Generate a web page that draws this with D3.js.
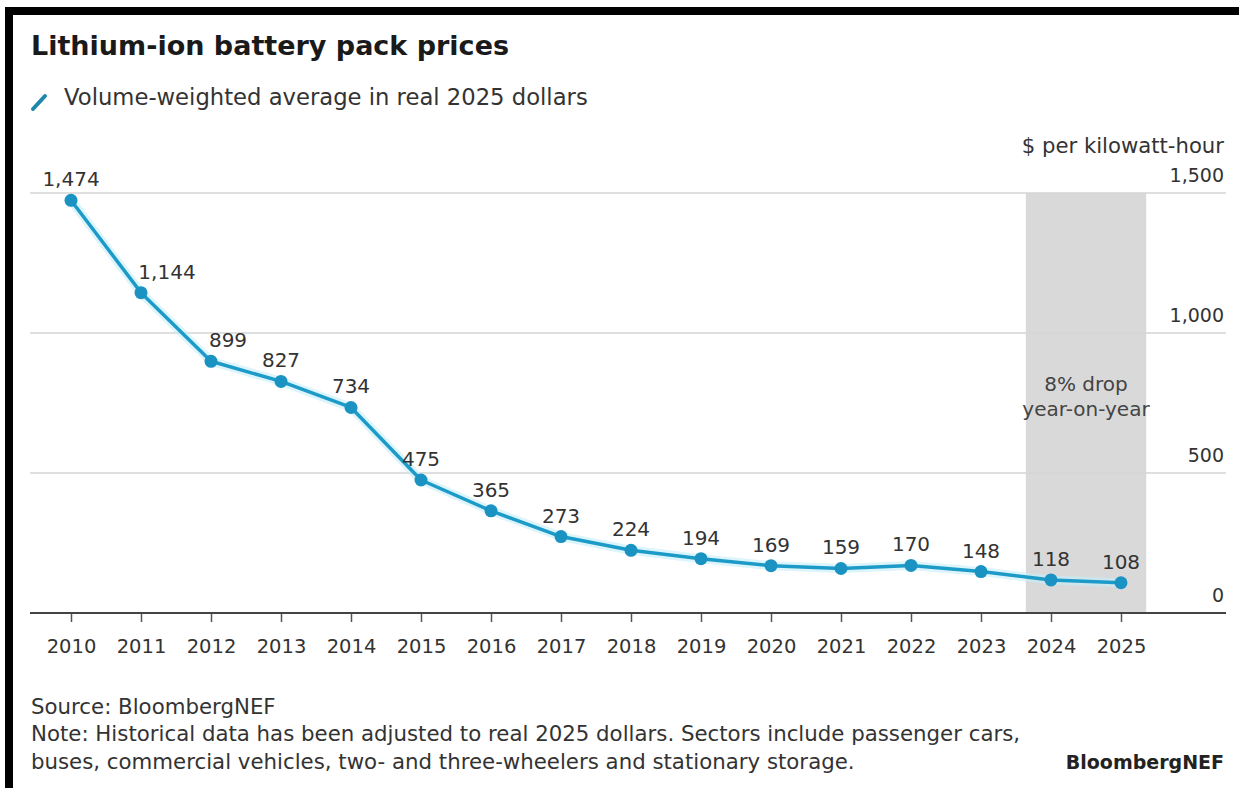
<!DOCTYPE html>
<html>
<head>
<meta charset="utf-8">
<title>Lithium-ion battery pack prices</title>
<script src="https://cdn.jsdelivr.net/npm/d3@7"></script>
<style>
    body { margin: 0; background: #fff; }
    svg { display: block; font-family: "DejaVu Sans", sans-serif; }
</style>
</head>
<body>
<div id="chart"></div>
<script>

// chart values
const years = [2010, 2011, 2012, 2013, 2014, 2015, 2016, 2017,
               2018, 2019, 2020, 2021, 2022, 2023, 2024, 2025];
const prices = [1474, 1144, 899, 827, 734, 475, 365, 273,
                224, 194, 169, 159, 170, 148, 118, 108];
const priceTicks = [0, 500, 1000, 1500];
const highlightYears = [2024, 2025];
const highlightNote = ["8% drop", "year-on-year"];

const titleText = "Lithium-ion battery pack prices";
const legendText = "Volume-weighted average in real 2025 dollars";
const unitText = "$ per kilowatt-hour";
const sourceText = "Source: BloombergNEF";
const noteLines = [
    "Note: Historical data has been adjusted to real 2025 dollars. Sectors include passenger cars,",
    "buses, commercial vehicles, two- and three-wheelers and stationary storage."
];
const brandText = "BloombergNEF";


class PriceLineVis {

    constructor(parentElement) {
        this.parentElement = parentElement;
        this.displayData = years.map((y, i) => ({year: y, price: prices[i]}));
        this.initVis();
    }

    initVis() {
        let vis = this;

        vis.fullWidth = 1239;
        vis.fullHeight = 788;
        vis.margin = {top: 193, right: 118, bottom: 175, left: 71};
        vis.width = vis.fullWidth - vis.margin.left - vis.margin.right;
        vis.height = vis.fullHeight - vis.margin.top - vis.margin.bottom;

        vis.svg = d3.select("#" + vis.parentElement).append("svg")
            .attr("width", vis.fullWidth)
            .attr("height", vis.fullHeight);

        // black frame around the whole picture
        vis.svg.append("rect")
            .attr("x", 9).attr("y", 11)
            .attr("width", 1234).attr("height", 800)
            .attr("fill", "none")
            .attr("stroke", "#000")
            .attr("stroke-width", 8);

        // title + legend
        vis.svg.append("text")
            .attr("x", 31).attr("y", 55)
            .attr("font-size", 27)
            .attr("font-weight", "bold")
            .attr("fill", "#1a1a1a")
            .text(titleText);

        vis.svg.append("line")
            .attr("x1", 33).attr("y1", 109)
            .attr("x2", 45).attr("y2", 96)
            .attr("stroke", "#1f87ad")
            .attr("stroke-width", 4)
            .attr("stroke-linecap", "round");

        vis.svg.append("text")
            .attr("x", 64).attr("y", 105)
            .attr("font-size", 22.7)
            .attr("fill", "#333")
            .text(legendText);

        vis.svg.append("text")
            .attr("x", 1224).attr("y", 153)
            .attr("text-anchor", "end")
            .attr("font-size", 21.2)
            .attr("fill", "#333")
            .text(unitText);

        // footer
        vis.svg.append("text")
            .attr("x", 31).attr("y", 714)
            .attr("font-size", 21.3)
            .attr("fill", "#333")
            .text(sourceText);

        vis.svg.selectAll(".note-line")
            .data(noteLines)
            .enter().append("text")
            .attr("class", "note-line")
            .attr("x", 31)
            .attr("y", (d, i) => 741 + i * 28)
            .attr("font-size", 21.3)
            .attr("fill", "#333")
            .text(d => d);

        vis.svg.append("text")
            .attr("x", 1224).attr("y", 769)
            .attr("text-anchor", "end")
            .attr("font-size", 19)
            .attr("font-weight", "bold")
            .attr("fill", "#222")
            .text(brandText);

        // plot area
        vis.g = vis.svg.append("g")
            .attr("transform", `translate(${vis.margin.left}, ${vis.margin.top})`);

        vis.x = d3.scaleLinear()
            .domain(d3.extent(years))
            .range([0, vis.width]);

        vis.y = d3.scaleLinear()
            .domain([0, d3.max(priceTicks)])
            .range([vis.height, 0]);

        vis.wrangleData();
    }

    wrangleData() {
        let vis = this;
        // shaded band covers the highlighted years, padded by about a third of a step
        vis.band = [d3.min(highlightYears) - 0.36, d3.max(highlightYears) + 0.36];
        vis.updateVis();
    }

    updateVis() {
        let vis = this;
        let gridLeft = 30 - vis.margin.left;
        let gridRight = 1226 - vis.margin.left;

        // highlight band
        vis.g.append("rect")
            .attr("x", vis.x(vis.band[0]))
            .attr("y", vis.y(d3.max(priceTicks)))
            .attr("width", vis.x(vis.band[1]) - vis.x(vis.band[0]))
            .attr("height", vis.y(0) - vis.y(d3.max(priceTicks)))
            .attr("fill", "#d9d9d9");

        vis.g.selectAll(".band-note")
            .data(highlightNote)
            .enter().append("text")
            .attr("class", "band-note")
            .attr("x", vis.x(d3.mean(highlightYears)))
            .attr("y", (d, i) => vis.y(800) + 2 + i * 25)
            .attr("text-anchor", "middle")
            .attr("font-size", 20)
            .attr("fill", "#444")
            .text(d => d);

        // gridlines + right-hand labels
        vis.g.selectAll(".grid")
            .data(priceTicks.filter(d => d > 0))
            .enter().append("line")
            .attr("class", "grid")
            .attr("x1", gridLeft).attr("x2", gridRight)
            .attr("y1", d => vis.y(d)).attr("y2", d => vis.y(d))
            .attr("stroke", "#d4d4d4")
            .attr("stroke-width", 1.5);

        vis.g.selectAll(".y-label")
            .data(priceTicks)
            .enter().append("text")
            .attr("class", "y-label")
            .attr("x", 1224 - vis.margin.left)
            .attr("y", d => vis.y(d) - 11)
            .attr("text-anchor", "end")
            .attr("font-size", 19)
            .attr("fill", "#333")
            .text(d => d3.format(",")(d));

        // x axis
        vis.xAxis = d3.axisBottom(vis.x)
            .tickValues(years)
            .tickFormat(d3.format("d"))
            .tickSize(9)
            .tickPadding(17);

        vis.axisG = vis.g.append("g")
            .attr("transform", `translate(0, ${vis.height})`)
            .call(vis.xAxis);
        vis.axisG.select(".domain").remove();
        vis.axisG.selectAll(".tick line")
            .attr("stroke", "#555")
            .attr("stroke-width", 1.5);
        vis.axisG.selectAll(".tick text")
            .attr("font-family", "DejaVu Sans, sans-serif")
            .attr("font-size", 19.5)
            .attr("fill", "#333");

        vis.g.append("line")
            .attr("x1", gridLeft).attr("x2", gridRight)
            .attr("y1", vis.height).attr("y2", vis.height)
            .attr("stroke", "#444")
            .attr("stroke-width", 2);

        // the line
        let line = d3.line()
            .x(d => vis.x(d.year))
            .y(d => vis.y(d.price));

        vis.g.append("path")
            .datum(vis.displayData)
            .attr("d", line)
            .attr("fill", "none")
            .attr("stroke", "#c4ecf8")
            .attr("stroke-width", 9)
            .attr("stroke-linejoin", "round")
            .attr("opacity", 0.6);

        vis.g.append("path")
            .datum(vis.displayData)
            .attr("d", line)
            .attr("fill", "none")
            .attr("stroke", "#1d9bc8")
            .attr("stroke-width", 3.5)
            .attr("stroke-linejoin", "round");

        vis.g.selectAll(".dot")
            .data(vis.displayData)
            .enter().append("circle")
            .attr("class", "dot")
            .attr("cx", d => vis.x(d.year))
            .attr("cy", d => vis.y(d.price))
            .attr("r", 6.5)
            .attr("fill", "#1a93c2");

        // labels sit above the dots, nudged right where the line is steep
        let nudge = {2011: 26, 2012: 17};
        vis.g.selectAll(".value-label")
            .data(vis.displayData)
            .enter().append("text")
            .attr("class", "value-label")
            .attr("x", d => vis.x(d.year) + (nudge[d.year] || 0))
            .attr("y", d => vis.y(d.price) - 14)
            .attr("text-anchor", "middle")
            .attr("font-size", 20)
            .attr("fill", "#333")
            .text(d => d3.format(",")(d.price));
    }
}

new PriceLineVis("chart");

</script>
</body>
</html>
